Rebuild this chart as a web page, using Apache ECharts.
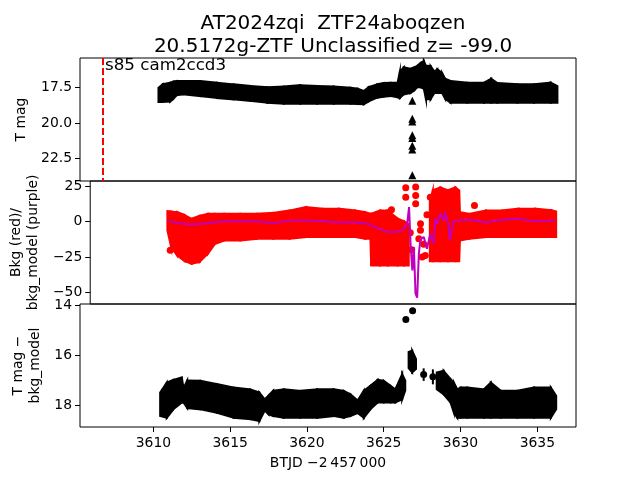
<!DOCTYPE html>
<html>
<head>
<meta charset="utf-8">
<script src="https://cdn.jsdelivr.net/npm/echarts@6/dist/echarts.min.js"></script>
<style>
  html, body { margin: 0; padding: 0; background: #fff; }
  #chart { width: 640px; height: 480px; }
</style>
</head>
<body>
<div id="chart"></div>
<script>
// --- panel 1: T mag envelope (top = brightest, bot = faintest) ---
const t1   = [3610.33, 3610.6, 3611.09, 3611.3, 3611.53, 3611.96, 3613.05, 3614.13, 3615.22, 3616.31, 3617.4, 3618.48, 3619.57, 3620.66, 3621.74, 3622.83, 3623.3, 3623.7, 3624.0, 3624.57, 3625.0, 3625.44, 3625.9, 3626.05, 3626.3, 3626.74, 3627.0, 3627.18, 3627.4, 3627.61, 3627.75, 3628.05, 3628.3, 3628.49, 3628.8, 3629.0, 3629.35, 3630.44, 3631.53, 3632.0, 3632.4, 3633.7, 3634.79, 3635.88, 3636.31]
const top1 = [17.53, 17.29, 17.18, 17.1, 17.06, 17.06, 17.06, 17.18, 17.29, 17.41, 17.5, 17.45, 17.35, 17.41, 17.45, 17.53, 17.6, 17.76, 17.5, 17.29, 17.2, 17.18, 17.18, 16.4, 16.1, 16.2, 16.1, 16.0, 15.8, 15.66, 16.0, 16.01, 16.4, 16.24, 16.5, 16.9, 17.06, 17.18, 17.18, 16.9, 17.2, 17.29, 17.29, 17.18, 17.41]
const bot1 = [18.53, 18.53, 18.5, 18.3, 18.05, 18.0, 18.12, 18.25, 18.35, 18.45, 18.58, 18.65, 18.65, 18.65, 18.65, 18.65, 18.67, 18.69, 18.5, 18.23, 18.15, 18.11, 18.2, 18.25, 18.0, 17.9, 17.7, 17.5, 17.5, 17.6, 18.34, 18.34, 17.9, 17.9, 17.9, 18.3, 18.58, 18.58, 18.58, 18.58, 18.58, 18.58, 18.58, 18.58, 18.58]
// faint points plotted as triangles
const triT = [3626.86, 3626.86, 3626.86, 3626.86, 3626.86, 3626.86, 3626.86, 3626.86]
const triM = [18.45, 19.7, 19.9, 20.85, 21.05, 21.6, 21.85, 23.65]
const sectorT = 3606.7

// --- panel 2: background (red) envelope, outliers and bkg_model (purple) ---
const t2  = [3610.35, 3610.6, 3611.0, 3611.5, 3611.96, 3612.5, 3613.05, 3613.5, 3614.13, 3615.2, 3616.31, 3617.4, 3618.48, 3619.57, 3620.66, 3621.74, 3622.83, 3623.5, 3623.85, 3623.9, 3624.5, 3625.0, 3625.66, 3626.1, 3626.4, 3627.0, 3627.8, 3628.0, 3628.5, 3629.0, 3629.5, 3629.75, 3629.8, 3630.44, 3631.53, 3632.62, 3633.7, 3634.79, 3635.88, 3636.2]
const lo2 = [-6.3, -18, -24, -28, -29.8, -28.5, -22.7, -16, -13.4, -13.4, -12.2, -12.2, -12.2, -11, -11, -11, -11, -12.2, -12.2, -31, -31, -31, -31, -31, -31, null, -28, -28, -28, -28, -28, -28, -13.4, -12.2, -11, -11, -11, -11, -11, -11]
const hi2 = [7.3, 7.0, 6.6, 4.5, 1.9, 4, 5.4, 5.4, 5.4, 5.4, 5.4, 6.0, 7.7, 10.1, 9.0, 9.0, 7.7, 6.6, 5.4, 5.4, 7.7, 7.7, 2, 0, -2, null, 14, 22, 24, 22, 24, 22, 6.6, 5.4, 7.7, 7.7, 9.0, 9.0, 8, 7]
const redT = [3610.54, 3625.25, 3625.87, 3625.98, 3626.2, 3626.2, 3626.86, 3626.86, 3626.86, 3627.07, 3627.18, 3627.18, 3627.29, 3627.61, 3627.83, 3628.16, 3630.77, 3626.5, 3626.6, 3627.4, 3627.5]
const redV = [-20.4, 8.2, -21.6, -27.4, 23.8, 17.1, 24.2, 18.3, 12.5, -12.2, -1.6, -6.3, -25.1, 4.7, 17.1, -20.4, 11.2, -8, -20, -16, -24]
const bmT = [3610.44, 3611.09, 3611.96, 3613.05, 3614.13, 3616.31, 3617.4, 3618.48, 3619.57, 3620.66, 3621.74, 3622.83, 3623.7, 3624.13, 3625.0, 3625.66, 3626.09, 3626.3, 3626.42, 3626.53, 3626.64, 3626.74, 3626.85, 3626.96, 3627.07, 3627.18, 3627.4, 3627.61, 3627.83, 3628.05, 3628.16, 3628.27, 3628.49, 3628.7, 3628.81, 3629.03, 3629.14, 3629.35, 3629.57, 3630.44, 3631.53, 3632.62, 3633.7, 3634.79, 3636.1]
const bmV = [0.2, -1.2, -2.1, -1.2, 0.2, 0.2, -1.2, 0.7, 0.7, 0.2, -0.5, -0.5, -1.6, -4.0, -7.5, -7.5, -5.2, -1, 10.1, -18.1, -34.5, -18.1, -50.9, -53.7, -22.7, -12.2, -11.0, -19.2, -8.7, -15.7, 1.9, -1.6, 5.4, 0.7, 6.6, -1.6, -13.4, -0.5, 0.7, 1.2, -0.5, 1.2, 1.9, 0.2, 0.7]

// --- panel 3: T mag - bkg_model envelope, error-bar points, outliers ---
const t3   = [3610.44, 3610.87, 3611.3, 3611.85, 3611.96, 3612.2, 3613.05, 3614.13, 3615.22, 3616.31, 3616.9, 3617.25, 3617.5, 3617.8, 3618.48, 3619.57, 3620.66, 3621.74, 3622.4, 3622.83, 3623.3, 3623.7, 3624.13, 3624.6, 3625.0, 3625.44, 3625.75, 3626.2, 3626.4, 3626.5, 3626.62, 3626.85, 3627.1, 3627.5, 3628.45, 3628.9, 3629.35, 3629.57, 3629.79, 3630.0, 3630.44, 3631.53, 3631.97, 3632.62, 3633.7, 3634.79, 3635.88, 3636.23]
const top3 = [17.48, 17.08, 16.97, 16.87, 17.3, 17.0, 17.01, 17.14, 17.28, 17.35, 17.48, 17.75, 17.6, 17.41, 17.35, 17.41, 17.35, 17.35, 17.41, 17.55, 17.8, 17.41, 17.21, 16.97, 17.01, 17.21, 17.35, 16.74, 17.0, null, 15.85, 15.8, 16.13, null, 16.67, 16.61, 16.94, 17.08, 17.35, 17.28, 17.28, 17.35, 17.08, 17.41, 17.41, 17.28, 17.28, 17.61]
const bot3 = [18.42, 18.49, 18.15, 17.88, 17.88, 18.1, 18.15, 18.29, 18.49, 18.55, 18.62, 18.2, 18.35, 18.42, 18.49, 18.49, 18.49, 18.42, 18.49, 18.42, 18.3, 18.49, 18.15, 17.88, 17.88, 17.88, 17.88, 17.75, 17.4, null, 16.5, 16.67, 16.54, null, 17.35, 17.55, 17.88, 18.29, 18.49, 18.49, 18.49, 18.49, 18.49, 18.49, 18.49, 18.49, 18.49, 18.15]
const ebT = [3627.6, 3628.2]
const ebM = [16.76, 16.85]
const ebE = [0.25, 0.3]
const outT = [3626.44, 3626.88]
const outM = [14.55, 14.2]

// tick labels
const xTicks  = [3610, 3615, 3620, 3625, 3630, 3635]
const y1Ticks = [17.5, 20.0, 22.5]
const y2Ticks = [25, 0, -25, -50]
const y3Ticks = [14, 16, 18]

const FONT = 'DejaVu Sans'
const minus = v => String(v).replace('-', '\u2212')

function bandItems (t, lo, hi) {
  const items = []
  for (let i = 0; i + 1 < t.length; i++) {
    if (lo[i] == null || lo[i + 1] == null) continue
    items.push([t[i], lo[i], hi[i], t[i + 1], lo[i + 1], hi[i + 1]])
  }
  return items
}
function renderBand (params, api) {
  const pts = [
    api.coord([api.value(0), api.value(1)]),
    api.coord([api.value(3), api.value(4)]),
    api.coord([api.value(3), api.value(5)]),
    api.coord([api.value(0), api.value(2)])
  ]
  const c = api.visual('color')
  return { type: 'polygon', shape: { points: pts }, style: { fill: c, stroke: c, lineWidth: 2 } }
}
function renderErr (params, api) {
  const a = api.coord([api.value(0), api.value(1) - api.value(2)])
  const b = api.coord([api.value(0), api.value(1) + api.value(2)])
  return { type: 'line', shape: { x1: a[0], y1: a[1], x2: b[0], y2: b[1] }, style: { stroke: '#000', lineWidth: 2 } }
}
const zip = (a, b) => a.map((v, i) => [v, b[i]])

const chart = echarts.init(document.getElementById('chart'))
const grid = { left: 80, width: 496, height: 123, show: true, borderColor: '#000', borderWidth: 1, backgroundColor: 'transparent' }
const xBase = {
  type: 'value', min: 3605.22, max: 3637.52,
  splitLine: { show: false }, axisLine: { show: false },
  axisTick: { show: false }, axisLabel: { show: false }
}
const yBase = {
  type: 'value', splitLine: { show: false },
  axisLine: { show: false },
  axisTick: { show: true, length: 5, lineStyle: { color: '#000' } },
  axisLabel: { color: '#000', fontFamily: FONT, fontSize: 13.9, margin: 8 },
  nameLocation: 'middle', nameRotate: 90,
  nameTextStyle: { color: '#000', fontFamily: FONT, fontSize: 13.9, lineHeight: 17 }
}

chart.setOption({
  animation: false,
  backgroundColor: '#fff',
  title: {
    text: 'AT2024zqi  ZTF24aboqzen\n20.5172g-ZTF Unclassified z= -99.0',
    left: 328, top: 7, textAlign: 'center',
    textStyle: { color: '#000', fontFamily: FONT, fontSize: 20, fontWeight: 'normal', lineHeight: 23 }
  },
  graphic: [{
    type: 'text', left: 105, top: 57,
    style: { text: 's85 cam2ccd3', fill: '#000', font: '16.7px "DejaVu Sans"' }
  }],
  grid: [
    Object.assign({ top: 58 }, grid),
    Object.assign({ top: 181 }, grid),
    Object.assign({ top: 304 }, grid)
  ],
  xAxis: [
    Object.assign({ gridIndex: 0 }, xBase),
    Object.assign({ gridIndex: 1 }, xBase),
    Object.assign({}, xBase, {
      gridIndex: 2,
      axisTick: { show: true, length: 5, lineStyle: { color: '#000' }, customValues: xTicks },
      axisLabel: { show: true, color: '#000', fontFamily: FONT, fontSize: 13.9, margin: 9, customValues: xTicks, formatter: v => String(v) },
      name: 'BTJD \u22122\u2009457\u2009000', nameLocation: 'middle', nameGap: 29,
      nameTextStyle: { color: '#000', fontFamily: FONT, fontSize: 13.9 }
    })
  ],
  yAxis: [
    Object.assign({}, yBase, {
      gridIndex: 0, inverse: true, min: 15.45, max: 24.06,
      name: 'T mag', nameGap: 46,
      axisTick: Object.assign({}, yBase.axisTick, { customValues: y1Ticks }),
      axisLabel: Object.assign({}, yBase.axisLabel, { customValues: y1Ticks, formatter: v => v.toFixed(1) })
    }),
    Object.assign({}, yBase, {
      gridIndex: 1, min: -58.2, max: 28.5,
      name: 'Bkg (red)/\nbkg_model (purple)', nameGap: 44,
      axisTick: Object.assign({}, yBase.axisTick, { customValues: y2Ticks }),
      axisLabel: Object.assign({}, yBase.axisLabel, { customValues: y2Ticks, formatter: minus })
    }),
    Object.assign({}, yBase, {
      gridIndex: 2, inverse: true, min: 13.93, max: 18.86,
      name: 'T mag \u2212\nbkg_model', nameGap: 35,
      axisTick: Object.assign({}, yBase.axisTick, { customValues: y3Ticks }),
      axisLabel: Object.assign({}, yBase.axisLabel, { customValues: y3Ticks })
    })
  ],
  series: [
    {
      type: 'custom', xAxisIndex: 0, yAxisIndex: 0, clip: true,
      renderItem: renderBand, itemStyle: { color: '#000' },
      encode: { x: [0, 3], y: [1, 2, 4, 5] },
      data: bandItems(t1, top1, bot1)
    },
    {
      type: 'scatter', xAxisIndex: 0, yAxisIndex: 0,
      symbol: 'triangle', symbolSize: 8, itemStyle: { color: '#000', opacity: 1 },
      data: zip(triT, triM),
      markLine: {
        silent: true, symbol: ['none', 'none'], label: { show: false },
        lineStyle: { color: '#ff0000', type: [7, 3], width: 2, opacity: 1 },
        data: [{ xAxis: sectorT }]
      }
    },
    {
      type: 'custom', xAxisIndex: 1, yAxisIndex: 1, clip: true,
      renderItem: renderBand, itemStyle: { color: '#ff0000' },
      encode: { x: [0, 3], y: [1, 2, 4, 5] },
      data: bandItems(t2, lo2, hi2)
    },
    {
      type: 'scatter', xAxisIndex: 1, yAxisIndex: 1,
      symbolSize: 7, itemStyle: { color: '#ff0000', opacity: 1 },
      data: zip(redT, redV)
    },
    {
      type: 'line', xAxisIndex: 1, yAxisIndex: 1,
      showSymbol: false, smooth: false, lineStyle: { color: '#bf00bf', width: 2 },
      data: zip(bmT, bmV)
    },
    {
      type: 'custom', xAxisIndex: 2, yAxisIndex: 2, clip: true,
      renderItem: renderBand, itemStyle: { color: '#000' },
      encode: { x: [0, 3], y: [1, 2, 4, 5] },
      data: bandItems(t3, top3, bot3)
    },
    {
      type: 'custom', xAxisIndex: 2, yAxisIndex: 2,
      renderItem: renderErr,
      encode: { x: 0, y: 1 },
      data: ebT.map((t, i) => [t, ebM[i], ebE[i]])
    },
    {
      type: 'scatter', xAxisIndex: 2, yAxisIndex: 2,
      symbolSize: 7, itemStyle: { color: '#000', opacity: 1 },
      data: zip(ebT, ebM).concat(zip(outT, outM))
    }
  ]
})
</script>
</body>
</html>
